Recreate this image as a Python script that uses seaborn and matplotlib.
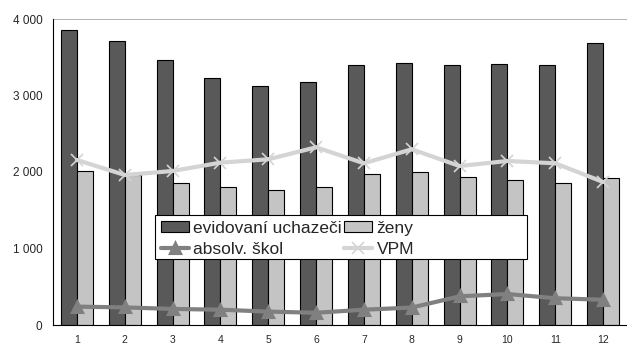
import numpy as np
import pandas as pd
import seaborn as sns
from matplotlib import pyplot as plt
from matplotlib.patches import Rectangle
from matplotlib.ticker import FuncFormatter

months = ["1", "2", "3", "4", "5", "6", "7", "8", "9", "10", "11", "12"]
evidovani = [3850, 3706, 3464, 3235, 3124, 3176, 3405, 3428, 3394, 3415, 3394, 3690]
zeny = [2015, 1960, 1860, 1808, 1760, 1810, 1970, 2004, 1930, 1895, 1852, 1917]
absolv = [240, 230, 210, 200, 175, 160, 200, 228, 375, 405, 350, 330]
vpm = [2157, 1961, 2013, 2122, 2166, 2323, 2114, 2297, 2078, 2144, 2114, 1870]

sns.set_style("white")
plt.rcParams['font.family'] = ['Liberation Sans', 'DejaVu Sans']

df = pd.DataFrame({
    "mesic": months * 2,
    "pocet": evidovani + zeny,
    "serie": ["evidovaní uchazeči"] * 12 + ["ženy"] * 12,
})

fig = plt.figure(figsize=(6.27, 3.45), dpi=100)
ax = fig.add_axes([53 / 627, 20 / 345, 574 / 627, 306 / 345])

sns.barplot(data=df, x="mesic", y="pocet", hue="serie",
            palette=["#595959", "#c4c4c4"], edgecolor="black", linewidth=0.8,
            width=0.67, ax=ax, legend=True)

sns.pointplot(x=months, y=absolv, color="#808080", markers="^",
              markersize=7, linewidth=3, ax=ax, label="absolv. škol")
sns.pointplot(x=months, y=vpm, color="#d4d4d4", markers="x",
              markersize=8, linewidth=3, markeredgewidth=1.2, ax=ax, label="VPM")

ax.set_ylim(0, 4000)
ax.set_xlim(-0.5, 11.5)
ax.set_yticks([0, 1000, 2000, 3000, 4000])
ax.yaxis.set_major_formatter(FuncFormatter(lambda v, p: f"{int(v):,}".replace(",", " ")))
ax.axhline(4000, color="#a6a6a6", linewidth=1.2, zorder=0)

ax.set_xticks(range(12))
ax.set_xticklabels(months)
ax.set_xticks(np.arange(-0.5, 12, 1), minor=True)
ax.tick_params(axis="x", which="major", length=0, labelsize=7.5, pad=7)
ax.tick_params(axis="x", which="minor", length=4, width=0.8, color="black", direction="out")
ax.tick_params(axis="y", length=4, width=0.8, color="black", direction="out", labelsize=8.5)
ax.set_xlabel("")
ax.set_ylabel("")

for s in ["top", "right"]:
    ax.spines[s].set_visible(False)
for s in ["left", "bottom"]:
    ax.spines[s].set_color("black")
    ax.spines[s].set_linewidth(0.8)

# legend box (Excel style, equal-width columns)
x0, x1 = (155 - 53) / 574, (527 - 53) / 574
y0, y1 = (325 - 259) / 306, (325 - 215) / 306
ax.add_patch(Rectangle((x0, y0), x1 - x0, y1 - y0, transform=ax.transAxes,
                       facecolor="white", edgecolor="black", linewidth=0.8,
                       zorder=5, clip_on=False))

handles, labels = ax.get_legend_handles_labels()
order = ["evidovaní uchazeči", "absolv. škol", "ženy", "VPM"]
hmap = dict(zip(labels, handles))
leg = ax.legend([hmap[k] for k in order], order, ncol=2, loc="upper left",
                bbox_to_anchor=(x0, y1), frameon=False, fontsize=12.5,
                handlelength=1.6, handleheight=0.6, handletextpad=0.25,
                columnspacing=0.15, borderpad=0.15, borderaxespad=0.2,
                labelspacing=0.32)
leg.set_zorder(6)

fig.savefig("out.png", dpi=100)
